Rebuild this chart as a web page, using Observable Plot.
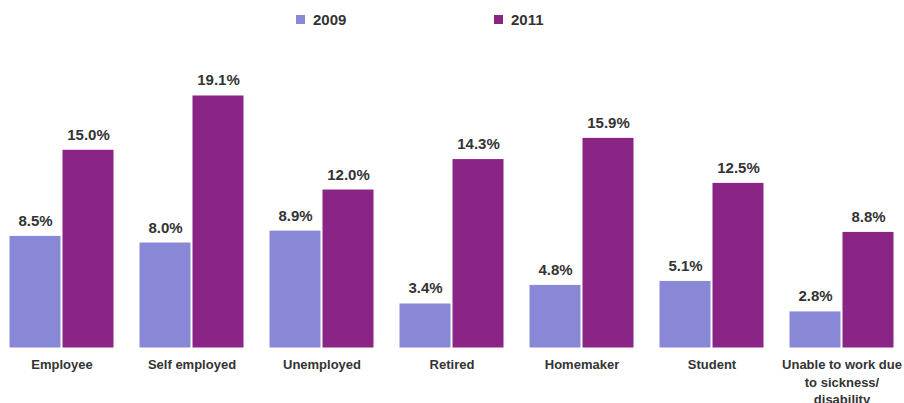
<!DOCTYPE html>
<html>
<head>
<meta charset="utf-8">
<script src="https://cdn.jsdelivr.net/npm/d3@7"></script>
<script src="https://cdn.jsdelivr.net/npm/@observablehq/plot@0.6"></script>
<style>
  html, body { margin: 0; padding: 0; background: #fff; }
  body { width: 904px; height: 403px; overflow: hidden; font-family: Arial, "Liberation Sans", sans-serif; }
  #legend { position: relative; height: 40px; }
  .item { position: absolute; top: 11px; font-size: 15px; font-weight: bold; color: #333; display: flex; align-items: center; }
  .sw { width: 9px; height: 9px; margin-right: 8px; display: inline-block; }
  svg text { font-weight: bold; }
</style>
</head>
<body>
<div id="legend"></div>
<div id="chart"></div>
<script>
const categories = ["Employee", "Self employed", "Unemployed", "Retired", "Homemaker", "Student", "Unable to work due to sickness/ disability"];
const tickLabels = ["Employee", "Self employed", "Unemployed", "Retired", "Homemaker", "Student", "Unable to work due\nto sickness/\ndisability"];
const years = ["2009", "2011"];
const values2009 = [8.5, 8.0, 8.9, 3.4, 4.8, 5.1, 2.8];
const values2011 = [15.0, 19.1, 12.0, 14.3, 15.9, 12.5, 8.8];
const colors = ["#8888d6", "#8b2585"];

const data = [];
categories.forEach((c, i) => {
  data.push({cat: c, year: years[0], value: values2009[i]});
  data.push({cat: c, year: years[1], value: values2011[i]});
});

// legend
const legend = document.getElementById("legend");
const legendX = [296, 494];
years.forEach((y, i) => {
  const it = document.createElement("div");
  it.className = "item";
  it.style.left = legendX[i] + "px";
  it.innerHTML = `<span class="sw" style="background:${colors[i]}"></span>${y}`;
  legend.appendChild(it);
});

const labelOf = new Map(categories.map((c, i) => [c, tickLabels[i]]));

const chart = Plot.plot({
  width: 904,
  height: 363,
  marginLeft: 0,
  marginRight: 0,
  marginTop: 0,
  marginBottom: 55,
  style: {fontFamily: 'Arial, "Liberation Sans", sans-serif', color: "#333", overflow: "visible"},
  fx: {domain: categories, paddingInner: 0.16, paddingOuter: 0.055, label: null},
  x: {domain: years, padding: 0.02, axis: null},
  y: {domain: [0, 23.25], axis: null},
  color: {domain: years, range: colors},
  marks: [
    Plot.barY(data, {fx: "cat", x: "year", y: "value", fill: "year", inset: 0.5}),
    Plot.text(data, {fx: "cat", x: "year", y: "value", text: d => d.value.toFixed(1) + "%", dy: -10, lineAnchor: "bottom", fontSize: 15, fill: "#333", fontWeight: "bold"}),
    Plot.axisFx({anchor: "bottom", tickSize: 0, tickPadding: 8, label: null, fontSize: 13, lineHeight: 1.35, tickFormat: d => labelOf.get(d), fill: "#333"})
  ]
});
document.getElementById("chart").appendChild(chart);
</script>
</body>
</html>
